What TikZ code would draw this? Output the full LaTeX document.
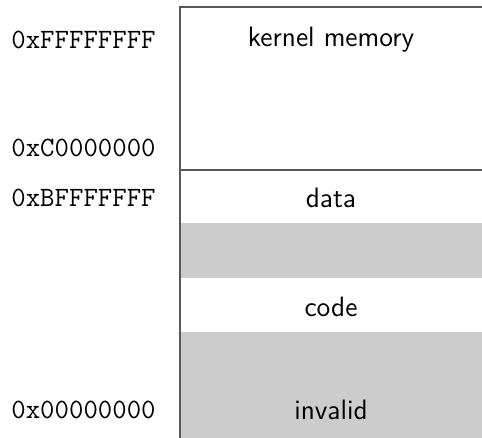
\documentclass[tikz,border=0pt]{standalone}
\begin{document}
\begin{tikzpicture}[x=0.5pt,y=-0.5pt,
  addr/.style={font=\fontsize{14}{17}\selectfont\ttfamily, inner sep=0pt},
  lbl/.style={font=\fontsize{14}{17}\selectfont\sffamily, inner sep=0pt},
  shade/.style={fill=black!20},
  rule/.style={draw=black!65, line width=0.6pt}]
\useasboundingbox (0,0) rectangle (482,438);
% regions
\fill[shade] (180,223) rectangle (482,278);
\fill[shade] (180,332) rectangle (482,438);
% borders
\draw[rule] (180,438) -- (180,7) -- (482,7);
\draw[rule] (180,170) -- (482,170);
% region labels
\node[lbl] (kernel) at (331,40) {kernel memory};
\node[lbl] (data) at (331,198) {data};
\node[lbl] (code) at (331,307) {code};
\node[lbl] (invalid) at (331,410) {invalid};
% address labels
\node[addr] (a1) at (83.5,40) {0xFFFFFFFF};
\node[addr] (a2) at (83.5,148) {0xC0000000};
\node[addr] (a3) at (83.5,198) {0xBFFFFFFF};
\node[addr] (a4) at (83.5,410) {0x00000000};
\end{tikzpicture}
\end{document}
